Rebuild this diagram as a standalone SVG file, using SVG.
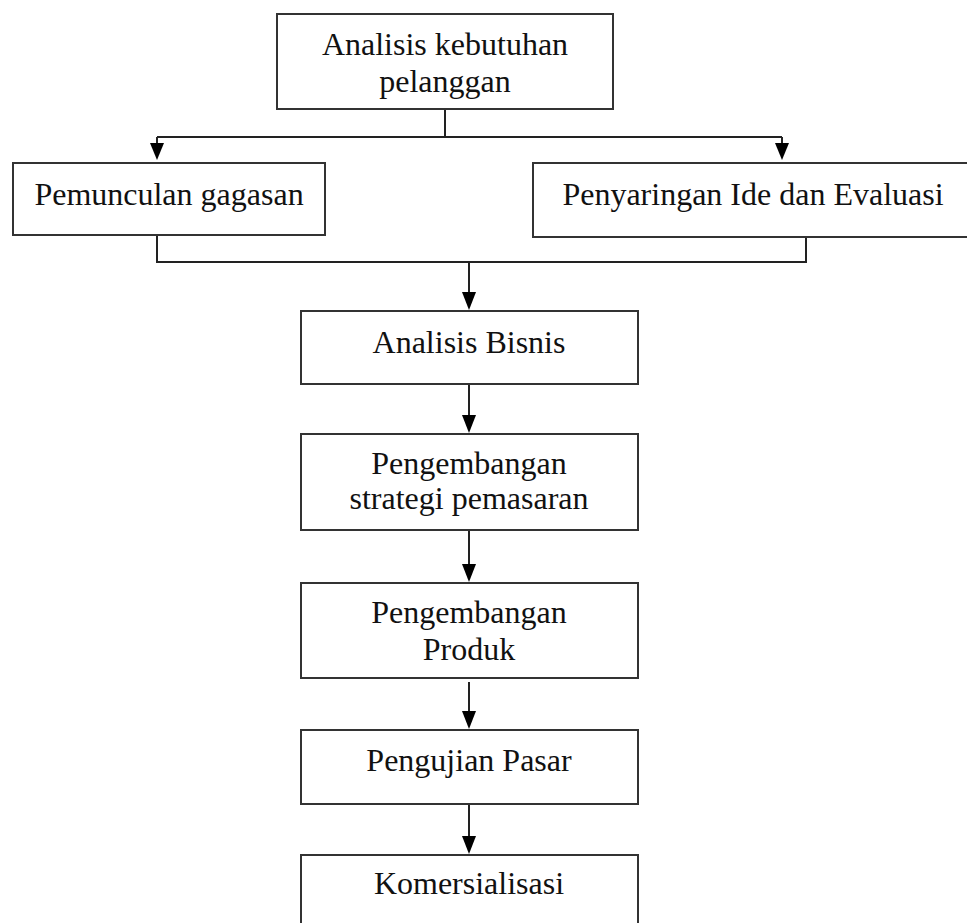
<svg xmlns="http://www.w3.org/2000/svg" width="967" height="923" viewBox="0 0 967 923">
<style>
.box{fill:#fff;stroke:#333;stroke-width:2}
.t{font-family:"Liberation Serif","Times New Roman",serif;font-size:32px;fill:#111;text-anchor:middle}
.c{fill:none;stroke:#222;stroke-width:2}
.ah{fill:#000}
</style>
<rect width="967" height="923" fill="#fff"/>
<g id="connectors">
<path class="c" d="M445,109 V137"/>
<path class="c" d="M157,137 H782"/>
<path class="c" d="M157,137 V145"/>
<path class="ah" d="M150,143 L164,143 L157,160 Z"/>
<path class="c" d="M782,137 V145"/>
<path class="ah" d="M775,143 L789,143 L782,160 Z"/>
<path class="c" d="M157,235 V262 H806 V237"/>
<path class="c" d="M469,262 V294"/>
<path class="ah" d="M462,292 L476,292 L469,310 Z"/>
<path class="c" d="M469,384 V418"/>
<path class="ah" d="M462,415 L476,415 L469,433 Z"/>
<path class="c" d="M469,530 V566"/>
<path class="ah" d="M462,564 L476,564 L469,582 Z"/>
<path class="c" d="M469,682 V714"/>
<path class="ah" d="M462,711 L476,711 L469,729 Z"/>
<path class="c" d="M469,804 V838"/>
<path class="ah" d="M462,836 L476,836 L469,854 Z"/>
</g>
<g id="n1">
<rect class="box" x="277" y="14" width="336" height="95"/>
<text class="t" x="445" y="55">Analisis kebutuhan</text>
<text class="t" x="445" y="92">pelanggan</text>
</g>
<g id="n2">
<rect class="box" x="13" y="163" width="312" height="72"/>
<text class="t" x="169" y="205">Pemunculan gagasan</text>
</g>
<g id="n3">
<rect class="box" x="533" y="163" width="450" height="74"/>
<text class="t" x="753" y="205">Penyaringan Ide dan Evaluasi</text>
</g>
<g id="n4">
<rect class="box" x="301" y="311" width="337" height="73"/>
<text class="t" x="469" y="353">Analisis Bisnis</text>
</g>
<g id="n5">
<rect class="box" x="301" y="434" width="337" height="96"/>
<text class="t" x="469" y="474">Pengembangan</text>
<text class="t" x="469" y="509">strategi pemasaran</text>
</g>
<g id="n6">
<rect class="box" x="301" y="583" width="337" height="95"/>
<text class="t" x="469" y="623">Pengembangan</text>
<text class="t" x="469" y="660">Produk</text>
</g>
<g id="n7">
<rect class="box" x="301" y="730" width="337" height="74"/>
<text class="t" x="469" y="771">Pengujian Pasar</text>
</g>
<g id="n8">
<rect class="box" x="301" y="855" width="337" height="90"/>
<text class="t" x="469" y="894">Komersialisasi</text>
</g>
</svg>
